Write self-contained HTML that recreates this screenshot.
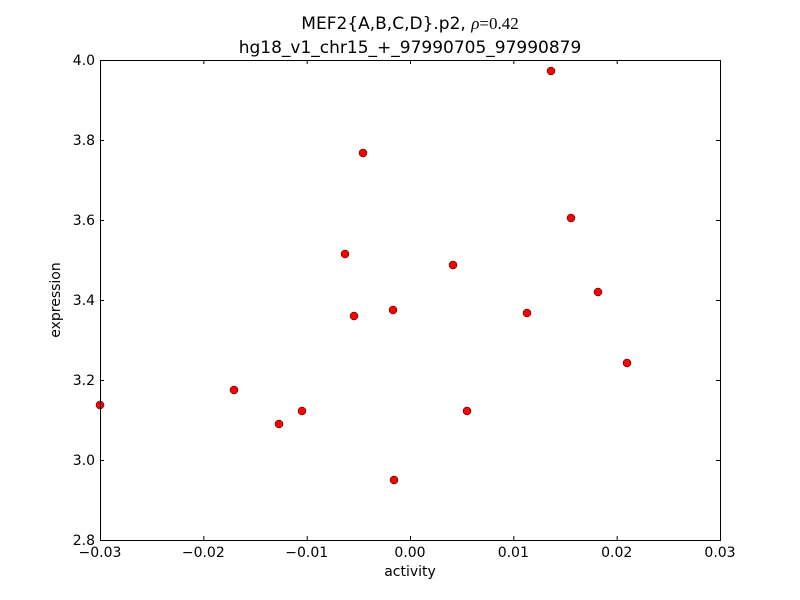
<!DOCTYPE html>
<html><head><meta charset="utf-8"><style>body{margin:0;background:#fff}svg{display:block}text{font-family:"DejaVu Sans","Liberation Sans",sans-serif;fill:#000}</style></head>
<body>
<svg width="800" height="600" viewBox="0 0 800 600">
<rect width="800" height="600" fill="#fff"/>
<g stroke="#000" stroke-width="1">
<!-- x ticks -->
<path d="M100.5 540v-4M203.8 540v-4M307.2 540v-4M410.5 540v-4M513.8 540v-4M617.2 540v-4M720.5 540v-4
M100.5 60v4M203.8 60v4M307.2 60v4M410.5 60v4M513.8 60v4M617.2 60v4M720.5 60v4
M100 540.5h4M100 460.5h4M100 380.5h4M100 300.5h4M100 220.5h4M100 140.5h4M100 60.5h4
M720 540.5h-4M720 460.5h-4M720 380.5h-4M720 300.5h-4M720 220.5h-4M720 140.5h-4M720 60.5h-4" fill="none"/>
</g>
<g fill="#f00" stroke="#000" stroke-width="0.5">
<circle cx="100" cy="405" r="4"/><circle cx="234" cy="390" r="4"/><circle cx="279" cy="424" r="4"/>
<circle cx="302" cy="411" r="4"/><circle cx="345" cy="254" r="4"/><circle cx="354" cy="316" r="4"/>
<circle cx="363" cy="153" r="4"/><circle cx="393" cy="310" r="4"/><circle cx="394" cy="480" r="4"/>
<circle cx="453" cy="265" r="4"/><circle cx="467" cy="411" r="4"/><circle cx="527" cy="313" r="4"/>
<circle cx="551" cy="71" r="4"/><circle cx="571" cy="218" r="4"/><circle cx="598" cy="292" r="4"/>
<circle cx="627" cy="363" r="4"/>
</g>
<rect x="100.5" y="60.5" width="620" height="480" fill="none" stroke="#000" stroke-width="1"/>
<g font-size="14" text-anchor="middle">
<text x="100" y="557">−0.03</text><text x="203.3" y="557">−0.02</text><text x="306.7" y="557">−0.01</text>
<text x="410" y="557">0.00</text><text x="513.3" y="557">0.01</text><text x="616.7" y="557">0.02</text><text x="720" y="557">0.03</text>
<text x="410" y="576">activity</text>
</g>
<g font-size="14" text-anchor="end">
<text x="95" y="545">2.8</text><text x="95" y="465">3.0</text><text x="95" y="385">3.2</text>
<text x="95" y="305">3.4</text><text x="95" y="225">3.6</text><text x="95" y="145">3.8</text><text x="95" y="65">4.0</text>
</g>
<text x="60" y="300" font-size="14" text-anchor="middle" transform="rotate(-90 60 300)">expression</text>
<text x="410" y="29" font-size="17" text-anchor="middle">MEF2{A,B,C,D}.p2, <tspan font-style="italic" font-family="Liberation Serif,serif">ρ</tspan><tspan font-family="Liberation Serif,serif">=0.42</tspan></text>
<text x="410" y="53" font-size="17" text-anchor="middle">hg18_v1_chr15_+_97990705_97990879</text>
</svg>
</body></html>
